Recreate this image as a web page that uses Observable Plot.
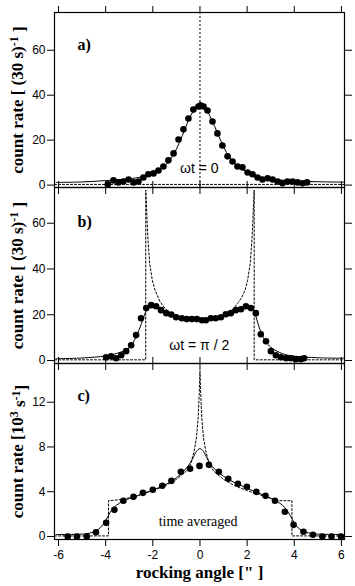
<!DOCTYPE html>
<html><head><meta charset="utf-8">
<script src="https://cdn.jsdelivr.net/npm/d3@7"></script>
<script src="https://cdn.jsdelivr.net/npm/@observablehq/plot@0.6"></script>
<style>
body{margin:0;background:#fff;}
#chart{position:relative;width:355px;height:586px;overflow:hidden;background:#fff;}
#chart svg{position:absolute;left:0;}
</style></head><body><div id="chart"></div>
<script>
// ---------- data ----------
const xTicks = [-6, -4, -2, 0, 2, 4, 6];
const yTicksAB = [0, 20, 40, 60];
const yTicksC = [0, 4, 8, 12];

// panel a) measured points
const aDotX = [-3.91,-3.67,-3.46,-3.25,-3.03,-2.82,-2.61,-2.40,-2.19,-1.97,-1.76,-1.55,-1.34,-1.12,-0.91,-0.70,-0.49,-0.28,-0.06,0.04,0.15,0.32,0.53,0.74,0.95,1.17,1.38,1.59,1.80,2.02,2.23,2.44,2.65,2.87,3.08,3.29,3.50,3.71,3.93,4.14,4.35,4.54];
const aDotY = [0.3,2.1,1.2,1.6,2.5,1.2,1.6,3.4,4.8,5.2,6.5,8.3,11.0,14.1,20.3,24.8,29.6,33.6,35.0,35.4,35.0,33.2,28.3,23.0,17.6,12.8,10.5,8.3,7.9,5.6,4.8,3.4,2.5,3.0,2.5,1.6,0.8,1.6,1.6,1.2,0.8,1.2];
// panel a) fitted curve
const aFitX = [-6.1,-5,-4,-3,-2.5,-2,-1.5,-1.25,-1,-0.75,-0.5,-0.25,0,0.25,0.5,0.75,1,1.25,1.5,2,2.5,3,4,5,6.1];
const aFitY = [1.2,1.4,2.0,2.8,3.6,4.9,8.5,11.5,16,22,28.5,33.5,36.6,34,29,23,17,12.5,9.5,5.8,3.8,2.8,1.8,1.5,1.3];
// panel a) model (dashed)
const aModelX = [-6.17, 6.13];
const aModelY = [0.3, 0.3];
const aPeakX = [-0.25, 0, 0.27];
const aPeakY = [34.6, 37.0, 34.6];

// panel b) measured points
const bDotX = [-3.98,-3.77,-3.56,-3.34,-3.13,-2.92,-2.71,-2.50,-2.28,-2.07,-1.86,-1.65,-1.43,-1.22,-1.01,-0.77,-0.56,-0.34,-0.13,0.08,0.25,0.46,0.67,0.89,1.10,1.31,1.52,1.74,1.95,2.16,2.37,2.58,2.80,3.01,3.22,3.43,3.65,3.86,4.07,4.28,4.42];
const bDotY = [1.4,1.9,1.0,2.3,4.1,6.7,11.1,18.5,22.9,24.2,23.7,22.0,20.7,20.1,18.9,18.5,18.1,18.1,18.1,17.6,17.6,18.5,18.5,18.9,20.2,20.7,22.0,22.4,23.7,22.9,20.7,11.5,8.4,4.1,2.3,1.4,1.0,1.0,0.6,0.6,1.0];
// panel b) fitted curve
const bFitX = [-6.1,-5,-4,-3.5,-3,-2.8,-2.6,-2.4,-2.25,-2.1,-2,-1.75,-1.5,-1,-0.5,0,0.5,1,1.5,1.75,2,2.15,2.3,2.45,2.6,2.8,3,3.5,4,5,6.1];
const bFitY = [0.8,1.1,2.0,3.2,5.5,8.5,13,18.5,22.5,24.2,24.4,23.2,21.8,19.6,18.4,18.0,18.4,19.6,21.6,22.8,23.8,23.8,21.5,16.5,12,8.2,5.8,3.0,1.9,1.2,1.0];
// panel b) model (dashed)
const bModelX = [-6.17,-2.30,-2.30,-2.27,-2.24,-2.20,-2.13,-2.02,-1.90,-1.70,-1.50,-1.25,-0.90,-0.45,0,0.45,0.90,1.25,1.42,1.60,1.78,1.92,2.02,2.13,2.20,2.24,2.27,2.30,2.30,6.13];
const bModelY = [0.3,0.3,74.5,68,60,52,42,35,30.6,25.8,23.0,20.5,19.0,18.2,18.0,18.2,19.0,20.5,22.6,25,27.7,31,35,42.3,52,60,68,74.5,0.3,0.3];

// panel c) measured points
const cDotX = [-5.61,-5.22,-4.80,-4.41,-3.98,-3.63,-3.25,-2.82,-2.42,-2.00,-1.60,-1.21,-0.81,-0.42,-0.02,0.38,0.80,1.20,1.61,1.99,2.39,2.78,3.18,3.60,3.97,4.39,4.79,5.19,5.58,5.98];
const cDotY = [0.0,0.0,0.0,0.38,1.22,2.38,3.19,3.54,3.90,4.17,4.53,4.97,5.78,6.05,6.31,6.40,5.78,5.15,4.71,4.44,3.99,3.63,3.19,2.21,1.04,0.42,0.15,0.0,0.0,0.0];
// panel c) fitted curve
const cFitX = [-6.1,-5.2,-4.8,-4.4,-4.1,-3.9,-3.7,-3.4,-3.2,-2.8,-2.4,-2,-1.6,-1.2,-0.8,-0.5,-0.3,-0.15,0,0.15,0.3,0.5,0.8,1.2,1.6,2,2.4,2.8,3.2,3.5,3.7,3.9,4.1,4.4,4.8,5.2,6.1];
const cFitY = [0.18,0.2,0.25,0.5,1.1,1.8,2.5,3.0,3.25,3.5,3.85,4.15,4.5,4.95,5.6,6.3,7.0,7.6,7.85,7.6,7.0,6.3,5.7,5.1,4.7,4.3,3.95,3.6,3.2,2.8,2.3,1.6,0.9,0.45,0.25,0.2,0.18];
// panel c) model (dashed)
const cModelX = [-6.17,-3.88,-3.88,-3.3,-2.5,-2,-1.5,-1,-0.6,-0.4,-0.25,-0.15,-0.08,-0.03,0,0.03,0.08,0.15,0.25,0.4,0.6,1,1.5,2,2.5,3.33,3.90,3.90,6.13];
const cModelY = [0.05,0.05,3.2,3.3,3.75,4.1,4.5,5.1,5.8,6.4,7.6,8.8,10.5,12.8,14.8,12.8,10.5,8.8,7.6,6.4,5.8,5.1,4.5,4.1,3.75,3.2,3.2,0.05,0.05];

const zip = (xs, ys) => xs.map((x, i) => ({x, y: ys[i]}));

// ---------- layout ----------
const W = 355;
const xDomain = [-6.17, 6.13];
const ml = 54, mr = 11;
const tickFont = "Liberation Sans, Arial, sans-serif";
const serif = "Liberation Serif, Times New Roman, serif";

function panel({top, height, marginTop, marginBottom, yDomain, yTicks, showXLabels, marks}) {
  const axes = [
    Plot.axisY(yTicks, {anchor: "left", tickSize: 7, tickPadding: 2, label: null, fontSize: 12, tickFormat: d => String(d)}),
    Plot.axisY(yTicks, {anchor: "right", tickSize: 7, fill: "none", label: null, tickFormat: d => ""}),
    Plot.axisX(xTicks, {anchor: "top", tickSize: 7, fill: "none", label: null, tickFormat: d => ""}),
    showXLabels
      ? Plot.axisX(xTicks, {anchor: "bottom", tickSize: 7, tickPadding: 4, label: null, fontSize: 12, tickFormat: d => String(d)})
      : Plot.axisX(xTicks, {anchor: "bottom", tickSize: 7, fill: "none", label: null, tickFormat: d => ""}),
    Plot.frame({stroke: "black", strokeWidth: 1.2})
  ];
  const svg = Plot.plot({
    width: W, height, marginLeft: ml, marginRight: mr, marginTop, marginBottom,
    style: {background: "transparent", overflow: "visible", fontFamily: tickFont},
    x: {domain: xDomain, axis: null},
    y: {domain: yDomain, axis: null},
    marks: [...marks, ...axes]
  });
  svg.style.top = top + "px";
  return svg;
}

function ytitle(text) {
  return Plot.text([text], {frameAnchor: "left", text: d => d, rotate: -90, dx: -37, fontFamily: serif, fontWeight: "bold", fontSize: 17, textAnchor: "middle"});
}
function plabel(text, dy) {
  return Plot.text([text], {frameAnchor: "top-left", text: d => d, dx: 23, dy, fontFamily: serif, fontWeight: "bold", fontSize: 16, textAnchor: "start", lineAnchor: "middle"});
}
const dash = {stroke: "black", strokeWidth: 1, strokeDasharray: "2,2"};
const solid = {stroke: "black", strokeWidth: 1, curve: "catmull-rom"};
const dotStyle = {x: "x", y: "y", r: 3.3, fill: "black", stroke: "none"};

const chart = document.getElementById("chart");

// panel a
chart.append(panel({
  top: 0, height: 197, marginTop: 12, marginBottom: 10,
  yDomain: [-1.07, 76.8], yTicks: yTicksAB,
  marks: [
    Plot.ruleX([0], {...dash}),
    Plot.line(zip(aModelX, aModelY), {x: "x", y: "y", ...dash}),
    Plot.line(zip(aPeakX, aPeakY), {x: "x", y: "y", ...dash}),
    Plot.line(zip(aFitX, aFitY), {x: "x", y: "y", ...solid}),
    Plot.dot(zip(aDotX, aDotY), dotStyle),
    Plot.text(["ωt = 0"], {x: -0.03, y: 7.25, text: d => d, fontSize: 14, fontFamily: tickFont, textAnchor: "middle", lineAnchor: "middle"}),
    ytitle("count rate [ (30 s)^-1 ]"),
    plabel("a)", 32)
  ]
}));

// panel b
chart.append(panel({
  top: 177, height: 196, marginTop: 10, marginBottom: 10,
  yDomain: [-1.3, 75.6], yTicks: yTicksAB,
  marks: [
    Plot.line(zip(bModelX, bModelY), {x: "x", y: "y", ...dash}),
    Plot.line(zip(bFitX, bFitY), {x: "x", y: "y", ...solid}),
    Plot.dot(zip(bDotX, bDotY), dotStyle),
    Plot.text(["ωt = π / 2"], {x: -0.03, y: 6.6, text: d => d, fontSize: 14, fontFamily: tickFont, textAnchor: "middle", lineAnchor: "middle"}),
    ytitle("count rate [ (30 s)^-1 ]"),
    plabel("b)", 34)
  ]
}));

// panel c
chart.append(panel({
  top: 353, height: 233, marginTop: 10, marginBottom: 47,
  yDomain: [-0.27, 15.46], yTicks: yTicksC, showXLabels: true,
  marks: [
    Plot.line(zip(cModelX, cModelY), {x: "x", y: "y", ...dash}),
    Plot.line(zip(cFitX, cFitY), {x: "x", y: "y", ...solid}),
    Plot.dot(zip(cDotX, cDotY), dotStyle),
    Plot.text(["time averaged"], {x: -0.08, y: 1.34, text: d => d, fontSize: 14, fontFamily: serif, textAnchor: "middle", lineAnchor: "middle"}),
    ytitle("count rate [10^3 s^-1]"),
    plabel("c)", 32),
    Plot.text(["rocking angle [\" ]"], {frameAnchor: "bottom", text: d => d, dy: 33, fontFamily: serif, fontWeight: "bold", fontSize: 17, textAnchor: "middle", lineAnchor: "middle"})
  ]
}));

// superscripts in the y titles
chart.querySelectorAll("text").forEach(t => {
  const s = t.textContent;
  if (!s.includes("^")) return;
  const parts = s.split(/(\^-?\d+)/);
  t.textContent = "";
  const ns = "http://www.w3.org/2000/svg";
  let raised = false;
  parts.forEach(p => {
    if (!p) return;
    const ts = document.createElementNS(ns, "tspan");
    if (p.startsWith("^")) {
      ts.textContent = p.slice(1);
      ts.setAttribute("dy", "-0.45em");
      ts.setAttribute("font-size", "12");
      raised = true;
    } else {
      ts.textContent = p;
      if (raised) { ts.setAttribute("dy", "0.45em"); raised = false; }
    }
    t.appendChild(ts);
  });
});
</script>
</body></html>
